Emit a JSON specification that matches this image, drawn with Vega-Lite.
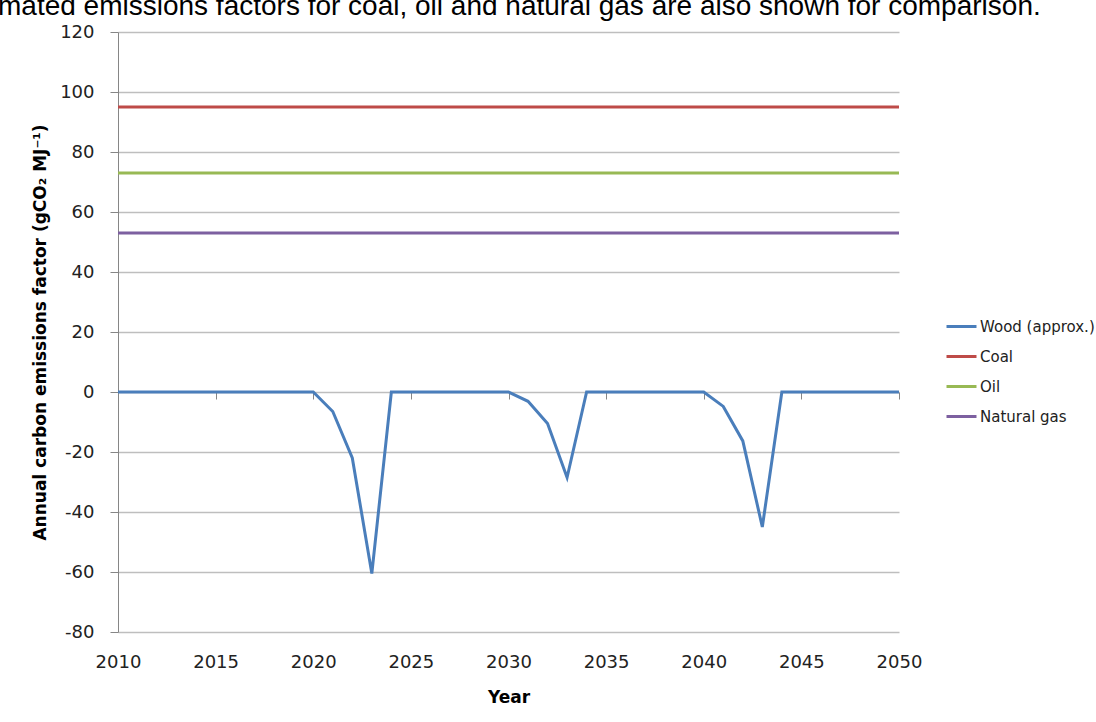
{
  "$schema": "https://vega.github.io/schema/vega-lite/v6.json",
  "width": 781,
  "height": 600,
  "autosize": {"type": "none"},
  "padding": {"left": 118, "top": 32, "right": 197, "bottom": 90},
  "background": "white",
  "title": {
    "text": "mated emissions factors for coal, oil and natural gas are also shown for comparison.",
    "anchor": "start",
    "frame": "group",
    "orient": "top",
    "offset": 0,
    "dx": -120,
    "dy": 20,
    "font": "Liberation Sans",
    "fontSize": 28,
    "fontWeight": "normal",
    "color": "#000000",
    "baseline": "alphabetic"
  },
  "config": {
    "view": {"stroke": null},
    "axis": {
      "gridColor": "#BEBEBE",
      "gridWidth": 1.3,
      "domainColor": "#868686",
      "tickColor": "#868686",
      "labelFont": "DejaVu Sans",
      "labelFontSize": 18,
      "labelColor": "#222222",
      "titleFont": "DejaVu Sans",
      "titleFontWeight": "bold",
      "titleColor": "#000000"
    },
    "legend": {
      "labelFont": "DejaVu Sans",
      "labelFontSize": 15,
      "labelColor": "#222222"
    }
  },
  "datasets": {
    "wood": [
      {"year": 2010, "value": 0, "series": "Wood (approx.)"},
      {"year": 2011, "value": 0, "series": "Wood (approx.)"},
      {"year": 2012, "value": 0, "series": "Wood (approx.)"},
      {"year": 2013, "value": 0, "series": "Wood (approx.)"},
      {"year": 2014, "value": 0, "series": "Wood (approx.)"},
      {"year": 2015, "value": 0, "series": "Wood (approx.)"},
      {"year": 2016, "value": 0, "series": "Wood (approx.)"},
      {"year": 2017, "value": 0, "series": "Wood (approx.)"},
      {"year": 2018, "value": 0, "series": "Wood (approx.)"},
      {"year": 2019, "value": 0, "series": "Wood (approx.)"},
      {"year": 2020, "value": 0, "series": "Wood (approx.)"},
      {"year": 2021, "value": -6.5, "series": "Wood (approx.)"},
      {"year": 2022, "value": -22, "series": "Wood (approx.)"},
      {"year": 2023, "value": -60.5, "series": "Wood (approx.)"},
      {"year": 2024, "value": 0, "series": "Wood (approx.)"},
      {"year": 2025, "value": 0, "series": "Wood (approx.)"},
      {"year": 2026, "value": 0, "series": "Wood (approx.)"},
      {"year": 2027, "value": 0, "series": "Wood (approx.)"},
      {"year": 2028, "value": 0, "series": "Wood (approx.)"},
      {"year": 2029, "value": 0, "series": "Wood (approx.)"},
      {"year": 2030, "value": 0, "series": "Wood (approx.)"},
      {"year": 2031, "value": -3.1, "series": "Wood (approx.)"},
      {"year": 2032, "value": -10.5, "series": "Wood (approx.)"},
      {"year": 2033, "value": -28.5, "series": "Wood (approx.)"},
      {"year": 2034, "value": 0, "series": "Wood (approx.)"},
      {"year": 2035, "value": 0, "series": "Wood (approx.)"},
      {"year": 2036, "value": 0, "series": "Wood (approx.)"},
      {"year": 2037, "value": 0, "series": "Wood (approx.)"},
      {"year": 2038, "value": 0, "series": "Wood (approx.)"},
      {"year": 2039, "value": 0, "series": "Wood (approx.)"},
      {"year": 2040, "value": 0, "series": "Wood (approx.)"},
      {"year": 2041, "value": -4.8, "series": "Wood (approx.)"},
      {"year": 2042, "value": -16.3, "series": "Wood (approx.)"},
      {"year": 2043, "value": -45, "series": "Wood (approx.)"},
      {"year": 2044, "value": 0, "series": "Wood (approx.)"},
      {"year": 2045, "value": 0, "series": "Wood (approx.)"},
      {"year": 2046, "value": 0, "series": "Wood (approx.)"},
      {"year": 2047, "value": 0, "series": "Wood (approx.)"},
      {"year": 2048, "value": 0, "series": "Wood (approx.)"},
      {"year": 2049, "value": 0, "series": "Wood (approx.)"},
      {"year": 2050, "value": 0, "series": "Wood (approx.)"}
    ],
    "fossil": [
      {"year": 2010, "value": 95, "series": "Coal"},
      {"year": 2050, "value": 95, "series": "Coal"},
      {"year": 2010, "value": 73, "series": "Oil"},
      {"year": 2050, "value": 73, "series": "Oil"},
      {"year": 2010, "value": 53, "series": "Natural gas"},
      {"year": 2050, "value": 53, "series": "Natural gas"}
    ]
  },
  "layer": [
    {
      "data": {"name": "fossil"},
      "mark": {"type": "line", "strokeWidth": 3},
      "encoding": {
        "x": {
          "field": "year", "type": "quantitative",
          "scale": {"domain": [2010, 2050], "nice": false, "zero": false},
          "axis": {
            "orient": "bottom",
            "values": [2010, 2015, 2020, 2025, 2030, 2035, 2040, 2045, 2050],
            "format": "d",
            "labelFlush": false,
            "labelOverlap": false,
            "grid": false,
            "domain": false,
            "ticks": false,
            "labelPadding": 21,
            "title": "Year",
            "titleFontSize": 17,
            "titlePadding": 18
          }
        },
        "y": {
          "field": "value", "type": "quantitative",
          "scale": {"domain": [-80, 120], "nice": false, "zero": false},
          "axis": {
            "values": [-80, -60, -40, -20, 0, 20, 40, 60, 80, 100, 120],
            "labelExpr": "datum.value < 0 ? '-' + abs(datum.value) : '' + datum.value",
            "grid": true,
            "domain": true,
            "ticks": true,
            "tickSize": 8,
            "labelPadding": 16,
            "labelFlush": false,
            "title": "Annual carbon emissions factor (gCO₂ MJ⁻¹)",
            "titleFontSize": 17,
            "titlePadding": 10
          }
        },
        "color": {
          "field": "series", "type": "nominal",
          "scale": {
            "domain": ["Wood (approx.)", "Coal", "Oil", "Natural gas"],
            "range": ["#4A7EBB", "#BE4B48", "#98B954", "#7D60A0"]
          },
          "legend": {
            "title": null,
            "orient": "none",
            "legendX": 827,
            "legendY": 278,
            "symbolType": "stroke",
            "symbolSize": 900,
            "symbolStrokeWidth": 3,
            "rowPadding": 5,
            "labelOffset": 2
          }
        }
      }
    },
    {
      "data": {"name": "wood"},
      "mark": {"type": "line", "strokeWidth": 3},
      "encoding": {
        "x": {
          "field": "year", "type": "quantitative",
          "axis": {
            "orient": "bottom",
            "values": [2010, 2015, 2020, 2025, 2030, 2035, 2040, 2045, 2050],
            "labels": false,
            "grid": false,
            "domain": false,
            "ticks": true,
            "tickSize": 7,
            "offset": -240,
            "title": null
          }
        },
        "y": {"field": "value", "type": "quantitative"},
        "color": {"field": "series", "type": "nominal"}
      }
    }
  ],
  "resolve": {"axis": {"x": "independent"}}
}
